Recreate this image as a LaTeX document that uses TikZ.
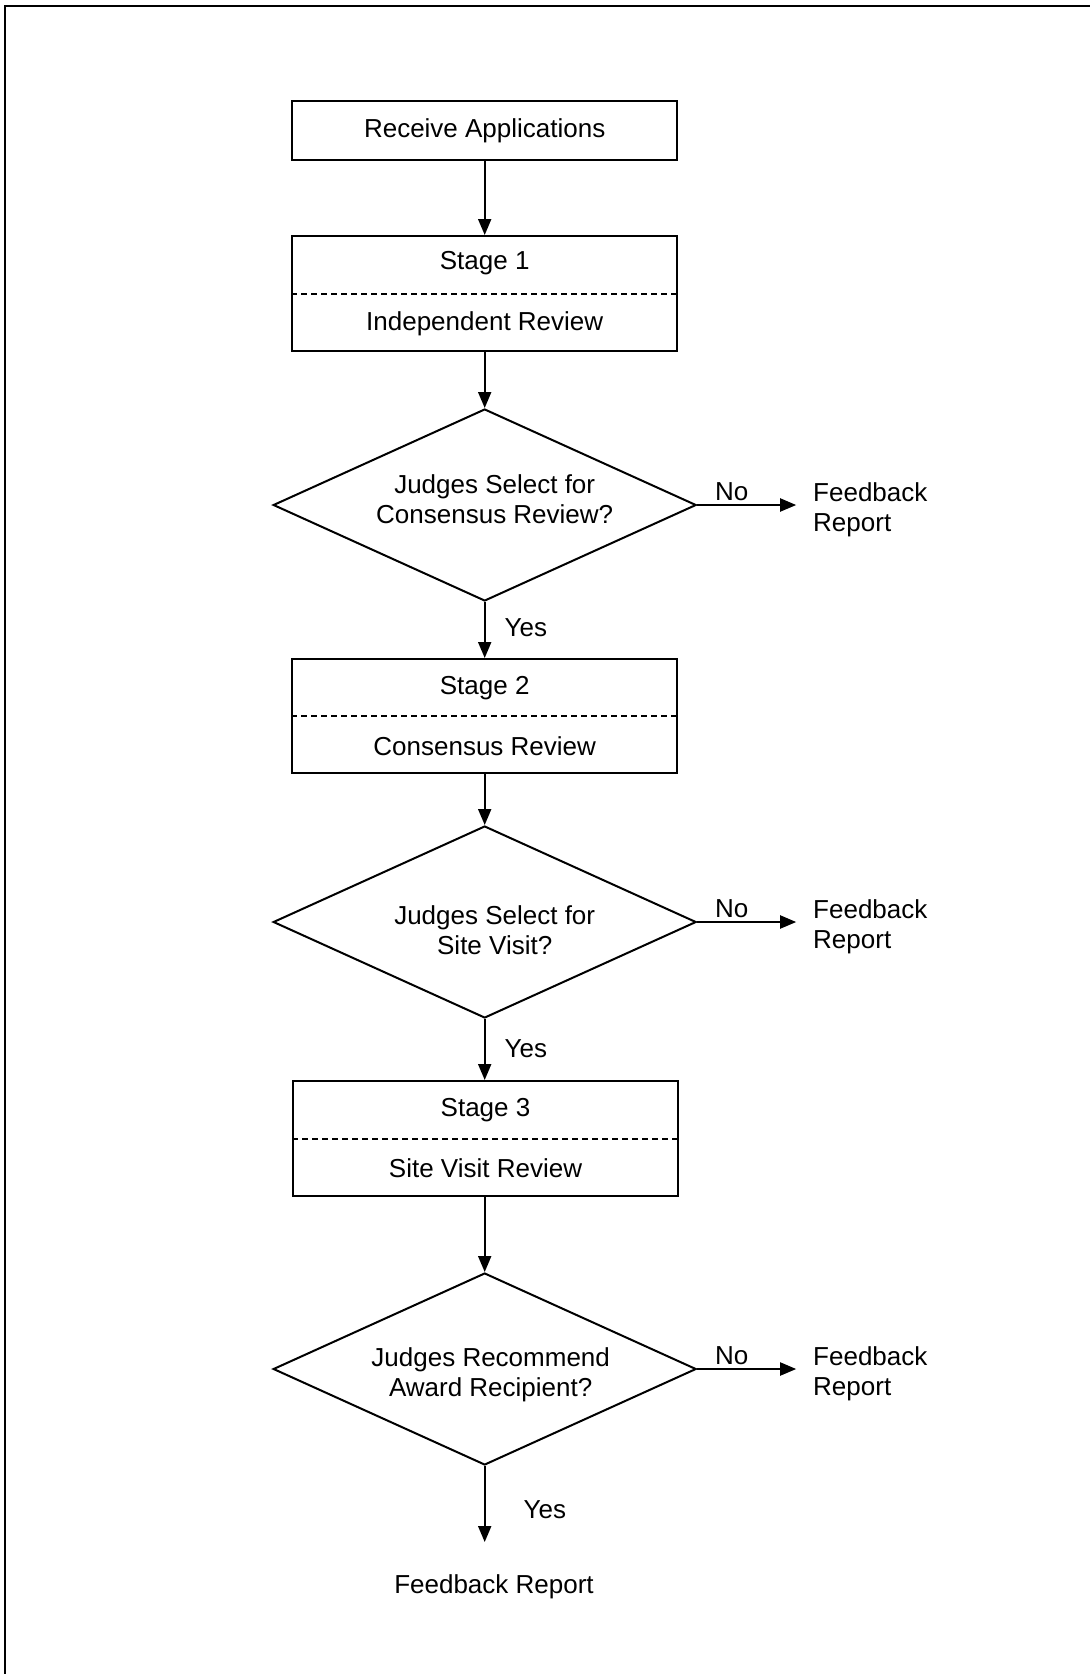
\documentclass[tikz,border=0pt]{standalone}
\usepackage{fontspec}
\setmainfont{Liberation Sans}
\usetikzlibrary{shapes.geometric,arrows.meta,positioning}

\begin{document}
\begin{tikzpicture}
[x=1pt,y=-1pt,line width=2pt,%
  every node/.style={font=\fontsize{26}{30}\selectfont,align=center},%
  box/.style={draw,minimum width=385pt,inner sep=0pt},%
  decision/.style={draw,shape=diamond,aspect=2.2,minimum width=423pt,minimum height=192pt,inner sep=0pt},%
  flow/.style={-{Triangle[length=16pt,width=13pt]}},%
  tag/.style={inner sep=0pt},%
  divider/.style={dash pattern=on 6pt off 4pt}]
\useasboundingbox (0,0) rectangle (1090,1674);
\draw[line width=2.4pt] (5,1674) -- (5,6) -- (1090,6);

% main column
\node[box,minimum height=59pt] (recv) at (484.7,130.5) {Receive Applications};
\node[box,minimum height=115pt] (s1) at (484.7,293.5) {Stage 1\\[31pt]Independent Review};
\node[decision,label={[xshift=10pt,yshift=6pt]center:{Judges Select for\\Consensus Review?}}] (q1) at (484.7,505) {};
\node[box,minimum height=114pt] (s2) at (484.7,716) {Stage 2\\[31pt]Consensus Review};
\node[decision,label={[xshift=10pt,yshift=-8pt]center:{Judges Select for\\Site Visit?}}] (q2) at (484.7,922) {};
\node[box,minimum height=115pt] (s3) at (485.5,1138.5) {Stage 3\\[31pt]Site Visit Review};
\node[decision,label={[xshift=6pt,yshift=-6pt]center:{Judges Recommend\\Award Recipient?}}] (q3) at (484.7,1369) {};
\node[tag] (fb) at (494,1587) {Feedback Report};
\coordinate (yend) at (484.7,1542);

% side exits
\node[tag,align=left,right=115pt of q1,yshift=-5pt] (f1) {Feedback\\Report};
\node[tag,align=left,right=115pt of q2,yshift=-5pt] (f2) {Feedback\\Report};
\node[tag,align=left,right=115pt of q3,yshift=-5pt] (f3) {Feedback\\Report};

\draw[divider] (s1.west) -- (s1.east);
\draw[divider] (s2.west) -- (s2.east);
\draw[divider] (s3.west) -- (s3.east);

\draw[flow] (recv) -- (s1);
\draw[flow] (s1) -- (q1);
\draw[flow] (q1) -- node[tag,right=19pt,pos=0.45] (y1) {Yes} (s2);
\draw[flow] (s2) -- (q2);
\draw[flow] (q2) -- node[tag,right=19pt,pos=0.49] (y2) {Yes} (s3.north -| q2);
\draw[flow] (s3.south -| q3) -- (q3);
\draw[flow] (q3) -- node[tag,right=38pt,pos=0.58] (y3) {Yes} (yend);

\draw[flow,shorten >=16pt] (q1.east) -- node[tag,above=3pt,pos=0.3] (n1) {No} (q1.east -| f1.west);
\draw[flow,shorten >=16pt] (q2.east) -- node[tag,above=3pt,pos=0.3] (n2) {No} (q2.east -| f2.west);
\draw[flow,shorten >=16pt] (q3.east) -- node[tag,above=3pt,pos=0.3] (n3) {No} (q3.east -| f3.west);
\end{tikzpicture}
\end{document}
